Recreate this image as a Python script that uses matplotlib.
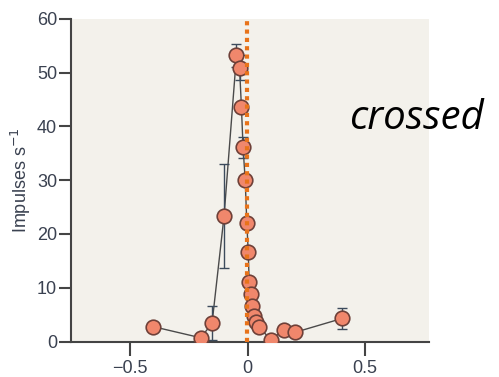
import matplotlib
matplotlib.use("Agg")
import matplotlib.pyplot as plt

plt.rcParams["font.family"] = ["Liberation Sans", "DejaVu Sans"]

# data
x_pos = [-0.404, -0.199, -0.151, -0.100, -0.047, -0.034, -0.026, -0.019, -0.010,
         -0.003, 0.003, 0.007, 0.013, 0.020, 0.027, 0.038, 0.050, 0.099, 0.154,
         0.201, 0.403]
impulses = [2.8, 0.7, 3.4, 23.3, 53.2, 50.9, 43.6, 36.1, 30.1,
            22.0, 16.7, 11.0, 8.9, 6.7, 4.8, 3.7, 2.7, 0.3, 2.2,
            1.7, 4.3]
err = [0, 0, 3.2, 9.7, 2.2, 2.3, 0, 1.9, 0,
       0, 0, 0, 0, 0, 0, 0, 0, 0, 0,
       0, 1.9]
midline_x = -0.003

fig = plt.figure(figsize=(4.99, 3.77), dpi=100)
ax = fig.add_axes([0.142, 0.094, 0.718, 0.856])
ax.set_facecolor("#f3f1eb")

ax.plot(x_pos, impulses, "-", color="#4a4a4a", lw=1.0, zorder=2)
ax.errorbar(x_pos, impulses, yerr=err, fmt="none", ecolor="#3c4b5c",
            elinewidth=1.0, capsize=3.5, capthick=1.0, zorder=3)
ax.plot(x_pos, impulses, "o", ms=10.5, mfc="#f0876c", mec="#6e4038",
        mew=1.2, zorder=4)
ax.plot([midline_x, midline_x], [0, 60], ls=(0, (1, 1)), color="#e8731a",
        lw=3, zorder=5, clip_on=False)

ax.set_xlim(-0.752, 0.773)
ax.set_ylim(0, 60)
ax.set_xticks([-0.5, 0, 0.5])
ax.set_xticklabels(["\u22120.5", "0", "0.5"])
ax.set_yticks(range(0, 61, 10))
for s in ["top", "right"]:
    ax.spines[s].set_visible(False)
for s in ["left", "bottom"]:
    ax.spines[s].set_color("#444444")
    ax.spines[s].set_linewidth(1.5)
ax.tick_params(axis="y", length=9, width=1.5, color="#444444",
               labelsize=13, labelcolor="#3a4150", pad=1)
ax.tick_params(axis="x", length=10, width=1.5, color="#444444",
               labelsize=13, labelcolor="#3a4150", pad=3)
ax.set_ylabel("Impulses s$^{-1}$", fontsize=13, color="#3a4150", labelpad=3)

fig.text(0.700, 0.686, "crossed", fontsize=29, style="italic",
         family="Open Sans", color="black", va="center", ha="left")

fig.savefig("out.png", dpi=100)
